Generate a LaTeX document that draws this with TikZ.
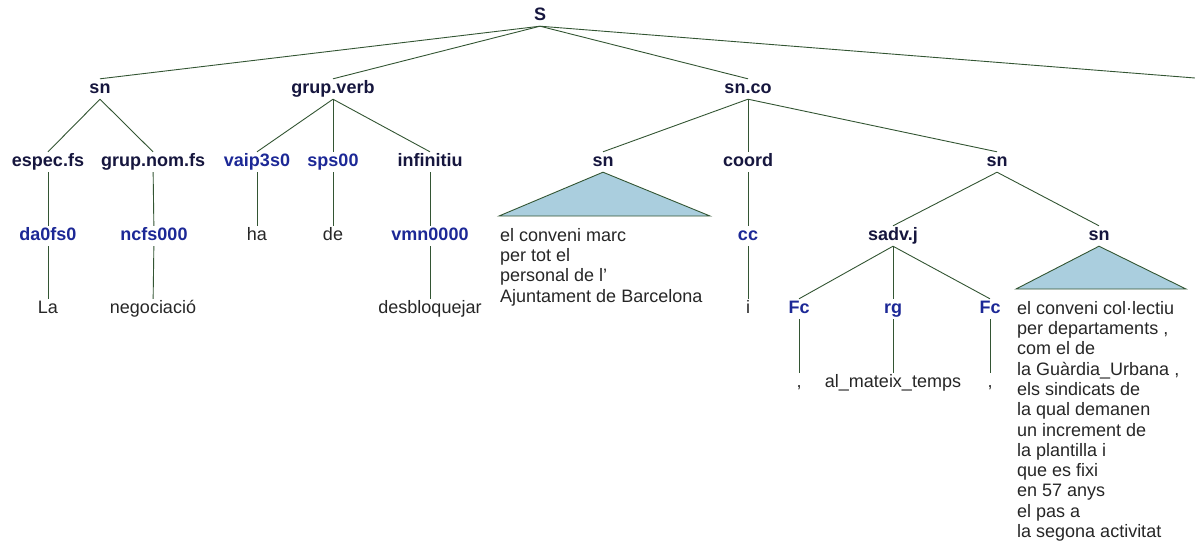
\documentclass[tikz,border=0pt]{standalone}
\usepackage{fontspec}
\setmainfont{Liberation Sans}
\definecolor{edgegreen}{RGB}{51,85,51}
\definecolor{catnavy}{RGB}{22,22,62}
\definecolor{tagblue}{RGB}{28,40,150}
\definecolor{trifill}{RGB}{170,206,222}
\tikzset{
  lbl/.style={inner sep=0pt, minimum height=20pt, text height=13pt, text depth=4pt, font=\fontsize{18}{20.3}\selectfont},
  cat/.style={lbl, text=catnavy, font=\fontsize{18}{20.3}\selectfont\bfseries},
  tag/.style={lbl, text=tagblue, font=\fontsize{18}{20.3}\selectfont\bfseries},
  word/.style={lbl, text=black!85},
  chunk/.style={inner sep=0pt, anchor=north west, align=left, text=black!85, font=\fontsize{18}{20.3}\selectfont},
  edge/.style={draw=edgegreen, line width=0.9pt},
  tri/.style={edge, fill=trifill}
}
\begin{document}
\begin{tikzpicture}[x=1pt,y=-1pt]
\useasboundingbox (0,0) rectangle (1195,547);
\node[cat] (s) at (540,16) {S};
\node[cat] (sn1) at (100,89) {sn};
\node[cat] (gv) at (333,89) {grup.verb};
\node[cat] (snco) at (748,89) {sn.co};
\coordinate (off) at (1195,78);
\node[cat] (espec) at (48,162) {espec.fs};
\node[cat] (gnom) at (153,162) {grup.nom.fs};
\node[tag] (vaip) at (257,162) {vaip3s0};
\node[tag] (sps) at (333,162) {sps00};
\node[cat] (inf) at (430,162) {infinitiu};
\node[cat] (sn2) at (603,162) {sn};
\node[cat] (coord) at (748,162) {coord};
\node[cat] (sn3) at (997,162) {sn};
\node[tag] (da) at (48,236) {da0fs0};
\node[tag] (ncfs) at (154,236) {ncfs000};
\node[word] (ha) at (257,236) {ha};
\node[word] (de) at (333,236) {de};
\node[tag] (vmn) at (430,236) {vmn0000};
\node[tag] (cc) at (748,236) {cc};
\node[cat] (sadv) at (893,236) {sadv.j};
\node[cat] (sn4) at (1099,236) {sn};
\node[word] (la) at (48,309) {La};
\node[word] (neg) at (153,309) {negociació};
\node[word] (desb) at (430,309) {desbloquejar};
\node[word] (i) at (748,309) {i};
\node[tag] (fc1) at (799,309) {Fc};
\node[tag] (rg) at (893,309) {rg};
\node[tag] (fc2) at (990,309) {Fc};
\node[word] (com1) at (799,383) {,};
\node[word] (temps) at (893,383) {al\_mateix\_temps};
\node[word] (com2) at (990,383) {,};
\coordinate (ta1) at (499,216);
\coordinate (ta2) at (710,216);
\coordinate (tb1) at (1016,289);
\coordinate (tb2) at (1186,289);
\node[chunk] (txt1) at (500,228) {el conveni marc\\per tot el\\personal de l’\\Ajuntament de Barcelona};
\node[chunk] (txt2) at (1017,301) {el conveni col·lectiu\\per departaments ,\\com el de\\la Guàrdia\_Urbana ,\\els sindicats de\\la qual demanen\\un increment de\\la plantilla i\\que es fixi\\en 57 anys\\el pas a\\la segona activitat};
\draw[edge] (s.south) -- (sn1.north);
\draw[edge] (s.south) -- (gv.north);
\draw[edge] (s.south) -- (snco.north);
\draw[edge] (s.south) -- (off);
\draw[edge] (sn1.south) -- (espec.north);
\draw[edge] (sn1.south) -- (gnom.north);
\draw[edge] (gv.south) -- (vaip.north);
\draw[edge] (gv.south) -- (sps.north);
\draw[edge] (gv.south) -- (inf.north);
\draw[edge] (snco.south) -- (sn2.north);
\draw[edge] (snco.south) -- (coord.north);
\draw[edge] (snco.south) -- (sn3.north);
\draw[edge] (espec) -- (da);
\draw[edge] (gnom) -- (ncfs);
\draw[edge] (vaip) -- (ha);
\draw[edge] (sps) -- (de);
\draw[edge] (inf) -- (vmn);
\draw[tri] (sn2.south) -- (ta2) -- (ta1) -- cycle;
\draw[edge] (coord) -- (cc);
\draw[edge] (sn3.south) -- (sadv.north);
\draw[edge] (sn3.south) -- (sn4.north);
\draw[edge] (da) -- (la);
\draw[edge] (ncfs) -- (neg);
\draw[edge] (vmn) -- (desb);
\draw[edge] (cc) -- (i);
\draw[edge] (sadv.south) -- (fc1.north);
\draw[edge] (sadv.south) -- (rg.north);
\draw[edge] (sadv.south) -- (fc2.north);
\draw[tri] (sn4.south) -- (tb2) -- (tb1) -- cycle;
\draw[edge] (fc1) -- (com1);
\draw[edge] (rg) -- (temps);
\draw[edge] (fc2) -- (com2);
\end{tikzpicture}
\end{document}
